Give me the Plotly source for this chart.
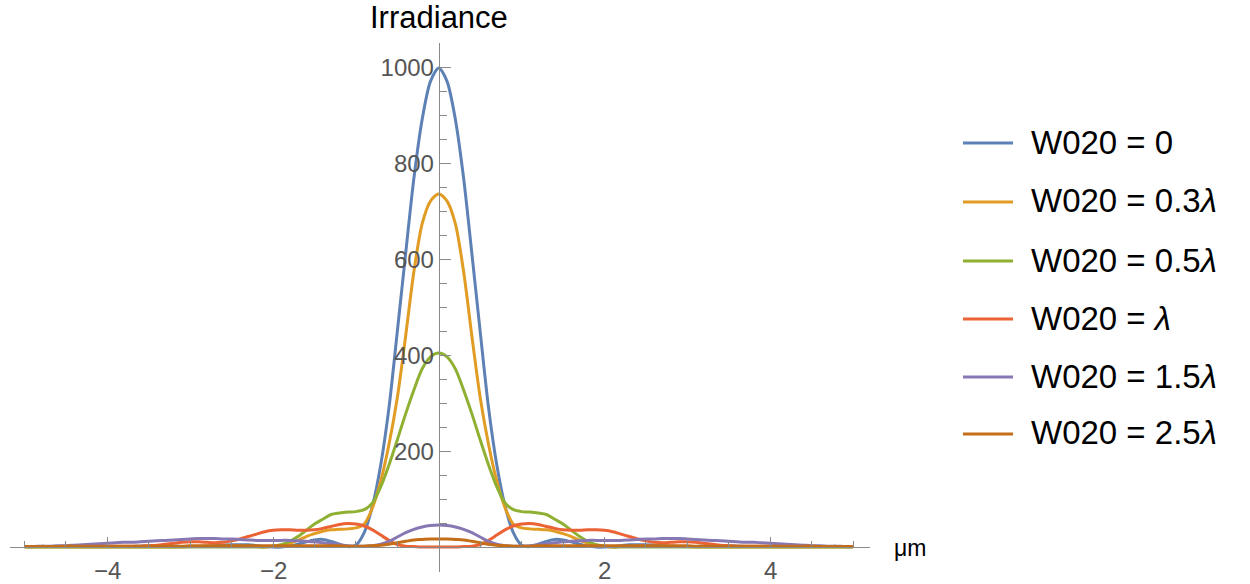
import plotly.graph_objects as go

# sample positions (micrometres)
x_um = [-5.0, -4.9, -4.8, -4.7, -4.6, -4.5, -4.4, -4.3, -4.2, -4.1,
        -4.0, -3.9, -3.8, -3.7, -3.6, -3.5, -3.4, -3.3, -3.2, -3.1,
        -3.0, -2.9, -2.8, -2.7, -2.6, -2.5, -2.4, -2.3, -2.2, -2.1,
        -2.0, -1.9, -1.8, -1.7, -1.6, -1.5, -1.4, -1.3, -1.2, -1.1,
        -1.0, -0.9, -0.8, -0.7, -0.6, -0.5, -0.4, -0.3, -0.2, -0.1,
        0.0,
        0.1, 0.2, 0.3, 0.4, 0.5, 0.6, 0.7, 0.8, 0.9, 1.0,
        1.1, 1.2, 1.3, 1.4, 1.5, 1.6, 1.7, 1.8, 1.9, 2.0,
        2.1, 2.2, 2.3, 2.4, 2.5, 2.6, 2.7, 2.8, 2.9, 3.0,
        3.1, 3.2, 3.3, 3.4, 3.5, 3.6, 3.7, 3.8, 3.9, 4.0,
        4.1, 4.2, 4.3, 4.4, 4.5, 4.6, 4.7, 4.8, 4.9, 5.0]

# irradiance, one list per defocus value
w020_0 = [1, 1, 1, 1, 1, 1, 1, 1, 1, 1,
          1, 1, 1, 1, 2, 2, 2, 2, 2, 1,
          1, 1, 2, 3, 4, 5, 5, 5, 3, 1,
          0, 0, 2, 6, 11, 15, 16, 12, 6, 1,
          4, 30, 86, 172, 292, 450, 612, 770, 893, 972,
          1000,
          972, 893, 770, 612, 450, 292, 172, 86, 30, 4,
          1, 6, 12, 16, 15, 11, 6, 2, 0, 0,
          1, 3, 5, 5, 5, 4, 3, 2, 1, 1,
          1, 2, 2, 2, 2, 2, 1, 1, 1, 1,
          1, 1, 1, 1, 1, 1, 1, 1, 1, 1]

w020_03 = [0, 0, 0, 0, 0, 0, 0, 0, 0, 0,
           0, 0, 0, 0, 0, 0, 0, 0, 0, 0,
           1, 1, 2, 2, 2, 2, 2, 1, 1, 0,
           2, 4, 8, 14, 22, 28, 33, 36, 37, 38,
           40, 48, 82, 138, 215, 312, 440, 575, 675, 722,
           737,
           722, 675, 575, 440, 312, 215, 138, 82, 48, 40,
           38, 37, 36, 33, 28, 22, 14, 8, 4, 2,
           0, 1, 1, 2, 2, 2, 2, 2, 1, 1,
           0, 0, 0, 0, 0, 0, 0, 0, 0, 0,
           0, 0, 0, 0, 0, 0, 0, 0, 0, 0]

w020_05 = [0, 0, 0, 0, 0, 0, 0, 0, 0, 0,
           0, 0, 0, 0, 0, 0, 0, 0, 0, 0,
           0, 0, 0, 0, 0, 0, 0, 0, 0, 0,
           2, 5, 12, 22, 35, 48, 58, 68, 71, 73,
           74, 78, 92, 126, 172, 224, 278, 328, 372, 397,
           405,
           397, 372, 328, 278, 224, 172, 126, 92, 78, 74,
           73, 71, 68, 58, 48, 35, 22, 12, 5, 2,
           0, 0, 0, 0, 0, 0, 0, 0, 0, 0,
           0, 0, 0, 0, 0, 0, 0, 0, 0, 0,
           0, 0, 0, 0, 0, 0, 0, 0, 0, 0]

w020_1 = [1, 1, 1, 1, 1, 1, 1, 1, 2, 2,
          2, 2, 2, 2, 2, 3, 4, 6, 8, 10,
          11, 11, 10, 9, 10, 13, 17, 22, 27, 32,
          35, 36, 36, 35, 35, 36, 39, 43, 47, 49,
          48, 44, 36, 25, 14, 5, 2, 1, 0, 0,
          0,
          0, 0, 1, 2, 5, 14, 25, 36, 44, 48,
          49, 47, 43, 39, 36, 35, 35, 36, 36, 35,
          32, 27, 22, 17, 13, 10, 9, 10, 11, 11,
          10, 8, 6, 4, 3, 2, 2, 2, 2, 2,
          2, 2, 1, 1, 1, 1, 1, 1, 1, 1]

w020_15 = [1, 1, 2, 2, 3, 3, 4, 5, 6, 7,
           8, 9, 10, 10, 11, 12, 13, 14, 15, 16,
           17, 18, 18, 18, 17, 17, 16, 15, 14, 14,
           14, 14, 14, 13, 12, 11, 9, 7, 5, 3,
           2, 2, 3, 6, 12, 21, 30, 37, 42, 45,
           46,
           45, 42, 37, 30, 21, 12, 6, 3, 2, 2,
           3, 5, 7, 9, 11, 12, 13, 14, 14, 14,
           14, 14, 15, 16, 17, 17, 18, 18, 18, 17,
           16, 15, 14, 13, 12, 11, 10, 10, 9, 8,
           7, 6, 5, 4, 3, 3, 2, 2, 1, 1]

w020_25 = [1, 1, 1, 1, 1, 2, 2, 2, 2, 2,
           2, 2, 2, 2, 2, 2, 2, 2, 2, 2,
           3, 3, 3, 3, 3, 3, 3, 3, 3, 3,
           3, 3, 3, 3, 3, 3, 3, 3, 3, 2,
           2, 2, 3, 4, 6, 9, 12, 15, 16, 17,
           17,
           17, 16, 15, 12, 9, 6, 4, 3, 2, 2,
           2, 3, 3, 3, 3, 3, 3, 3, 3, 3,
           3, 3, 3, 3, 3, 3, 3, 3, 3, 3,
           2, 2, 2, 2, 2, 2, 2, 2, 2, 2,
           2, 2, 2, 2, 2, 1, 1, 1, 1, 1]

series_names = ["W020 = 0", "W020 = 0.3<i>\u03bb</i>", "W020 = 0.5<i>\u03bb</i>",
                "W020 = <i>\u03bb</i>", "W020 = 1.5<i>\u03bb</i>", "W020 = 2.5<i>\u03bb</i>"]
series_values = [w020_0, w020_03, w020_05, w020_1, w020_15, w020_25]
series_colors = ["#5E81B5", "#E19C24", "#8FB032", "#EB6235", "#8778B3", "#C56E1A"]

x_ticks = [-4, -2, 2, 4]
x_tick_labels = ["\u22124", "\u22122", "2", "4"]
x_minor = [-5, -4.5, -3.5, -3, -2.5, -1.5, -1, -0.5, 0.5, 1, 1.5, 2.5, 3, 3.5, 4.5, 5]
y_ticks = [200, 400, 600, 800, 1000]
y_tick_labels = ["200", "400", "600", "800", "1000"]
y_minor = [-50, 50, 100, 150, 250, 300, 350, 450, 500, 550, 650, 700, 750,
           850, 900, 950, 1050]

FONT = "Liberation Sans, Arial, sans-serif"
W, H = 1250, 584
ML, MR, MT, MB = 10, 380, 43, 12
PW, PH = W - ML - MR, H - MT - MB


def px_x(p):
    return (p - ML) / PW


def px_y(p):
    return (H - MB - p) / PH


fig = go.Figure()
for name, vals, col in zip(series_names, series_values, series_colors):
    fig.add_trace(go.Scatter(x=x_um, y=vals, mode="lines", name=name,
                             line=dict(color=col, width=3, shape="spline", smoothing=0.8),
                             showlegend=False))

x_range = [-5.175, 5.205]
y_range = [-52, 1052]
yaxis_pos = (0 - x_range[0]) / (x_range[1] - x_range[0])
xaxis_pos = (0 - y_range[0]) / (y_range[1] - y_range[0])

axis_col = "#8a8a8a"
fig.update_layout(
    width=W, height=H,
    margin=dict(l=ML, r=MR, t=MT, b=MB, pad=0, autoexpand=False),
    paper_bgcolor="white", plot_bgcolor="white",
    font=dict(family=FONT, size=24, color="#555555"),
    xaxis=dict(range=x_range, showgrid=False, zeroline=False, showline=True,
               automargin=False, showticklabels=False,
               linecolor=axis_col, linewidth=1, anchor="free", position=xaxis_pos,
               tickmode="array", tickvals=x_ticks,
               ticks="inside", ticklen=10, tickcolor=axis_col, tickwidth=1,
               minor=dict(tickmode="array", tickvals=x_minor, ticks="inside",
                          ticklen=6, tickcolor=axis_col, tickwidth=1)),
    yaxis=dict(range=y_range, showgrid=False, zeroline=False, showline=True,
               automargin=False,
               linecolor=axis_col, linewidth=1, anchor="free", position=yaxis_pos,
               tickmode="array", tickvals=y_ticks, ticktext=y_tick_labels,
               ticks="inside", ticklen=11, tickcolor=axis_col, tickwidth=1,
               tickfont=dict(family=FONT, size=24, color="#555555"),
               minor=dict(tickmode="array", tickvals=y_minor, ticks="inside",
                          ticklen=7, tickcolor=axis_col, tickwidth=1)),
)

# x tick labels placed on the x scale, just under the axis line
for tv, tt in zip(x_ticks, x_tick_labels):
    fig.add_annotation(text=tt, xref="x", yref="paper", x=tv, y=px_y(570),
                       xanchor="center", yanchor="middle", showarrow=False,
                       font=dict(family=FONT, size=24, color="#555555"))

# axis labels
fig.add_annotation(text="Irradiance", xref="paper", yref="paper",
                   x=yaxis_pos, y=px_y(18), xanchor="center", yanchor="middle",
                   showarrow=False, font=dict(family=FONT, size=31, color="#000000"))
fig.add_annotation(text="\u03bcm", xref="paper", yref="paper",
                   x=px_x(892), y=px_y(548), xanchor="left", yanchor="middle",
                   showarrow=False, font=dict(family=FONT, size=23, color="#000000"))

# legend
row_y = [143, 202, 261, 319, 377, 434]
for name, col, ry in zip(series_names, series_colors, row_y):
    fig.add_shape(type="line", xref="paper", yref="paper",
                  x0=px_x(963), x1=px_x(1013), y0=px_y(ry), y1=px_y(ry),
                  line=dict(color=col, width=3))
    fig.add_annotation(text=name, xref="paper", yref="paper",
                       x=px_x(1029), y=px_y(ry - 1), xanchor="left", yanchor="middle",
                       showarrow=False, font=dict(family=FONT, size=33, color="#000000"))

fig.write_html("out.html")
